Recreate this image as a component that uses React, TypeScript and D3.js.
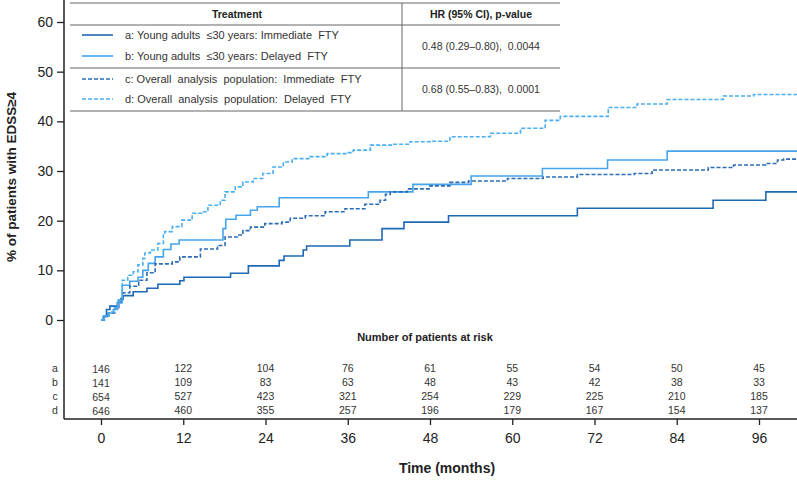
import { useEffect, useRef } from "react";
import * as d3 from "d3";

// Kaplan–Meier style cumulative curves: [month, % with EDSS>=4], step-after
const seriesA: [number, number][] = [
  [0, 0], [0.4, 0.8], [0.8, 2.1], [1.3, 2.8], [2.4, 3.5], [2.9, 4.3], [3.2, 4.9], [4.7, 5.7],
  [6.7, 6.4], [8.3, 7.2], [11.5, 7.9], [12.1, 8.6], [18.9, 9.4], [21.5, 10.9], [26, 12],
  [26.7, 12.9], [29.5, 14.1], [30, 14.9], [36.3, 16.1], [41, 18.4], [44.2, 19.7], [50.7, 21],
  [69.5, 22.5], [89.3, 24.1], [97, 25.8],
];
const seriesB: [number, number][] = [
  [0, 0], [0.3, 0.7], [1, 1.4], [1.8, 2.1], [2.4, 3.5], [3.1, 7], [4.2, 7.8], [5.4, 8.6],
  [6.1, 10], [6.9, 11.4], [7.9, 12.7], [9.1, 14.2], [10.2, 15.3], [11.4, 16.1], [17.8, 18.4],
  [18.2, 20.3], [19.7, 21.1], [21.8, 22.1], [22.8, 22.8], [26, 24.6], [39, 25.8], [45.5, 27.3],
  [54, 29], [64.4, 30.5], [73.9, 32.2], [82.6, 34],
];
const seriesC: [number, number][] = [
  [0, 0], [0.5, 0.7], [1.2, 1.4], [2, 2.5], [2.6, 4], [3.2, 5.5], [4.2, 6.8], [5.5, 8],
  [6.7, 9.5], [7.9, 11.3], [10.4, 11.7], [11.5, 12.7], [14.5, 14.3], [17, 15], [18.1, 16.7],
  [19.9, 17.1], [20.7, 18], [21.8, 18.7], [23.9, 19.4], [26.4, 19.7], [27.6, 20.5], [29.8, 21],
  [32.7, 21.8], [35.6, 22.4], [38.5, 23.3], [40.7, 24.1], [41.5, 25.3], [42.2, 25.8],
  [44.7, 26.4], [48, 27], [50.9, 27.7], [53.6, 28], [59.3, 28.5], [64.5, 28.8], [69.5, 29.3],
  [77.8, 29.5], [80.4, 30.2], [88.6, 30.7], [92.3, 31.2], [97, 31.5], [98.7, 32.2], [99.6, 32.4],
];
const seriesD: [number, number][] = [
  [0, 0], [0.4, 0.8], [1.2, 1.6], [2, 2.5], [2.5, 4], [3.1, 8], [3.9, 9], [4.7, 9.7],
  [5.4, 11.1], [6.1, 12.4], [6.4, 13.5], [7.2, 14.1], [8.3, 15.4], [9.1, 17.1], [9.3, 17.8],
  [10.4, 18.8], [11.8, 20.1], [13.3, 21.5], [14.7, 21.8], [15.6, 23.1], [17.4, 24.1],
  [18.1, 25.8], [19.6, 26.8], [20.7, 27.8], [22.2, 28.5], [23.6, 29.5], [25.1, 30.8],
  [26.6, 31.8], [27.9, 32.5], [30.5, 32.9], [33, 33.5], [35.9, 33.7], [36.8, 34.2],
  [39.3, 35.2], [42.6, 35.4], [45.1, 35.9], [48, 36], [50.9, 36.9], [56.8, 37.6], [61.2, 38.6],
  [64.8, 40.2], [67, 41], [74, 42.8], [78.2, 43.5], [82.6, 44.4], [90.8, 45.1], [95.2, 45.4],
];

const seriesKeys = ["a", "b", "c", "d"];
const seriesLabels = [
  "a: Young adults  \u226430 years: Immediate  FTY",
  "b: Young adults  \u226430 years: Delayed  FTY",
  "c: Overall  analysis  population:  Immediate  FTY",
  "d: Overall  analysis  population:  Delayed  FTY",
];
const hrLabels = ["0.48 (0.29\u20130.80),  0.0044", "0.68 (0.55\u20130.83),  0.0001"];

const xTicks = [0, 12, 24, 36, 48, 60, 72, 84, 96];
const yTicks = [0, 10, 20, 30, 40, 50, 60];
const atRisk = [
  [146, 122, 104, 76, 61, 55, 54, 50, 45],
  [141, 109, 83, 63, 48, 43, 42, 38, 33],
  [654, 527, 423, 321, 254, 229, 225, 210, 185],
  [646, 460, 355, 257, 196, 179, 167, 154, 137],
];

const W = 797;
const H = 480;
const FONT = "'Liberation Sans', Arial, sans-serif";
const colors = ["#1f68b5", "#45a4ec", "#2a6cb5", "#4aaef2"];
const dashes = [null, null, "4,2", "4,2"];

export default function App() {
  const ref = useRef<SVGSVGElement>(null);

  useEffect(() => {
    if (!ref.current) return;
    const svg = d3.select(ref.current);
    svg.selectAll("*").remove();

    const x = d3.scaleLinear().domain([0, 96]).range([101, 759]);
    const y = d3.scaleLinear().domain([0, 60]).range([320, 22]);
    const axisX0 = 64;
    const axisY0 = 419;
    const tEnd = x.invert(W);

    // curves
    const line = d3
      .line<[number, number]>()
      .x((d) => x(d[0]))
      .y((d) => y(d[1]))
      .curve(d3.curveStepAfter);
    const all = [seriesA, seriesB, seriesC, seriesD];
    all.forEach((s, i) => {
      const pts = [...s, [tEnd, s[s.length - 1][1]] as [number, number]];
      svg
        .append("path")
        .attr("d", line(pts))
        .attr("fill", "none")
        .attr("stroke", colors[i])
        .attr("stroke-width", 1.6)
        .attr("stroke-dasharray", dashes[i]);
    });

    // y axis
    const gy = svg.append("g").attr("transform", `translate(${axisX0},0)`);
    gy.call(d3.axisLeft(y).tickValues(yTicks).tickSize(7).tickPadding(4));
    gy.select(".domain").remove();
    gy.selectAll("line").attr("stroke", "#222").attr("stroke-width", 1.3);
    gy.selectAll("text").attr("font-family", FONT).attr("font-size", 14).attr("fill", "#222");
    svg
      .append("line")
      .attr("x1", axisX0).attr("x2", axisX0)
      .attr("y1", 0).attr("y2", axisY0)
      .attr("stroke", "#222").attr("stroke-width", 1.5);

    // x axis
    const gx = svg.append("g").attr("transform", `translate(0,${axisY0})`);
    gx.call(d3.axisBottom(x).tickValues(xTicks).tickSize(6).tickPadding(8));
    gx.select(".domain").remove();
    gx.selectAll("line").attr("stroke", "#222").attr("stroke-width", 1.3);
    gx.selectAll("text").attr("font-family", FONT).attr("font-size", 14).attr("fill", "#222");
    svg
      .append("line")
      .attr("x1", axisX0).attr("x2", W)
      .attr("y1", axisY0).attr("y2", axisY0)
      .attr("stroke", "#222").attr("stroke-width", 1.5);

    // axis titles
    svg
      .append("text")
      .attr("transform", "translate(11,177) rotate(-90)")
      .attr("text-anchor", "middle")
      .attr("dy", "0.35em")
      .attr("font-family", FONT).attr("font-size", 13.5).attr("font-weight", "bold")
      .attr("fill", "#222")
      .text("% of patients with EDSS\u22654");
    svg
      .append("text")
      .attr("x", 447).attr("y", 473)
      .attr("text-anchor", "middle")
      .attr("font-family", FONT).attr("font-size", 14).attr("font-weight", "bold")
      .attr("fill", "#222")
      .text("Time (months)");

    // number at risk
    svg
      .append("text")
      .attr("x", 425).attr("y", 341)
      .attr("text-anchor", "middle")
      .attr("font-family", FONT).attr("font-size", 11).attr("font-weight", "bold")
      .attr("fill", "#222")
      .text("Number of patients at risk");
    const rowY = d3.scalePoint<string>().domain(seriesKeys).range([368, 410]);
    seriesKeys.forEach((k, i) => {
      svg
        .append("text")
        .attr("x", 55).attr("y", rowY(k)!)
        .attr("dy", "0.35em")
        .attr("text-anchor", "middle")
        .attr("font-family", FONT).attr("font-size", 10.5)
        .attr("fill", "#333")
        .text(k);
      atRisk[i].forEach((v, j) => {
        svg
          .append("text")
          .attr("x", x(xTicks[j]))
          .attr("y", rowY(k)! + (j === 0 ? 1 : 0))
          .attr("dy", "0.35em")
          .attr("text-anchor", "middle")
          .attr("font-family", FONT).attr("font-size", 10.5)
          .attr("fill", "#333")
          .text(v);
      });
    });

    // legend table
    const tL = 70, tR = 560, tDiv = 402;
    const hLines = [3, 25, 68, 111];
    const lg = svg.append("g");
    hLines.forEach((hy) =>
      lg.append("line")
        .attr("x1", tL).attr("x2", tR).attr("y1", hy).attr("y2", hy)
        .attr("stroke", "#666").attr("stroke-width", 1)
    );
    lg.append("line")
      .attr("x1", tDiv).attr("x2", tDiv).attr("y1", 3).attr("y2", 111)
      .attr("stroke", "#666").attr("stroke-width", 1);
    lg.append("text")
      .attr("x", 237).attr("y", 14).attr("dy", "0.35em")
      .attr("text-anchor", "middle")
      .attr("font-family", FONT).attr("font-size", 10.5).attr("font-weight", "bold")
      .attr("fill", "#222")
      .text("Treatment");
    lg.append("text")
      .attr("x", 481).attr("y", 14).attr("dy", "0.35em")
      .attr("text-anchor", "middle")
      .attr("font-family", FONT).attr("font-size", 10.5).attr("font-weight", "bold")
      .attr("fill", "#222")
      .text("HR (95% CI), p-value");
    const legY = [35, 56, 79, 99];
    seriesLabels.forEach((lab, i) => {
      lg.append("line")
        .attr("x1", 82).attr("x2", 113).attr("y1", legY[i]).attr("y2", legY[i])
        .attr("stroke", colors[i]).attr("stroke-width", 1.6)
        .attr("stroke-dasharray", dashes[i]);
      lg.append("text")
        .attr("x", 125).attr("y", legY[i]).attr("dy", "0.35em")
        .attr("font-family", FONT).attr("font-size", 11)
        .attr("fill", "#333")
        .attr("style", "white-space: pre")
        .text(lab);
    });
    hrLabels.forEach((lab, i) => {
      lg.append("text")
        .attr("x", 481).attr("y", i === 0 ? 46 : 89).attr("dy", "0.35em")
        .attr("text-anchor", "middle")
        .attr("font-family", FONT).attr("font-size", 10.5)
        .attr("fill", "#333")
        .attr("style", "white-space: pre")
        .text(lab);
    });
  }, []);

  return (
    <svg
      ref={ref}
      width={W}
      height={H}
      style={{ position: "absolute", left: 0, top: 0, background: "#fff" }}
    />
  );
}
